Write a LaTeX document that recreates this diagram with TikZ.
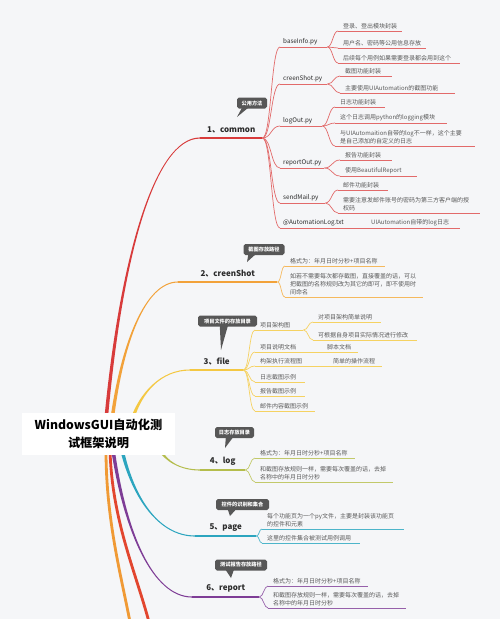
\documentclass[tikz,border=0pt]{standalone}
\usepackage{fontspec}
\setmainfont{Noto Sans CJK SC}
\usetikzlibrary{calc}

\definecolor{paper}{HTML}{F5F6F8}
\definecolor{leaftext}{HTML}{5A5A5A}
\definecolor{topictext}{HTML}{2B2B2B}
\definecolor{tagfill}{HTML}{575757}
\definecolor{commoncol}{HTML}{D83B3B}
\definecolor{commontw}{HTML}{E26A6A}
\definecolor{shotcol}{HTML}{F2A23A}
\definecolor{shottw}{HTML}{F5B95E}
\definecolor{filecol}{HTML}{F4C843}
\definecolor{filetw}{HTML}{F5D262}
\definecolor{logcol}{HTML}{B4BD4C}
\definecolor{logtw}{HTML}{C2C96A}
\definecolor{pagecol}{HTML}{2CA5BF}
\definecolor{pagetw}{HTML}{4DB5CA}
\definecolor{reportcol}{HTML}{7E3D96}
\definecolor{reporttw}{HTML}{9660AA}
\definecolor{redtail}{HTML}{E2462F}
\definecolor{orangetail}{HTML}{F09A35}

% thick tapering branch from the title box to a branch name
\newcommand{\limb}[3]{%
  \fill[#1] let \p1=(#2), \p2=(#3), \n1={0.55*sign(\y2-\y1)} in
    (\x1-1.8pt,\y1)
    .. controls ({\x1+0.15*(\x2-\x1)-1.2pt},{\y1+0.55*(\y2-\y1)})
       and ({\x2-0.5*(\x2-\x1)},{\y2+(\n1)})
    .. (\x2,{\y2+(\n1)})
    -- (\x2,{\y2-(\n1)})
    .. controls ({\x2-0.5*(\x2-\x1)},{\y2-(\n1)})
       and ({\x1+0.15*(\x2-\x1)+1.2pt},{\y1+0.55*(\y2-\y1)})
    .. (\x1+1.8pt,\y1) -- cycle;
}

\begin{document}
\begin{tikzpicture}[
    x=1pt, y=-1pt,
    % Style for a text that sits on its own line
    leaf/.style={anchor=south west, text width=#1pt, align=left,
        inner xsep=5pt, inner ysep=1.6pt, text=leaftext,
        font=\fontsize{6}{8}\selectfont},
    % Style for the file names under 1、common
    pyfile/.style={leaf=#1, inner xsep=3pt, text=topictext,
        font=\fontsize{6.3}{8}\selectfont},
    % Style for the numbered branch names
    topic/.style={anchor=south west, minimum width=#1pt, inner xsep=0pt,
        inner ysep=4.5pt, text=topictext,
        font=\bfseries\fontsize{8}{9}\selectfont},
    % Style for the dark speech bubbles
    tag/.style={fill=tagfill, rounded corners=1.8pt, text=white,
        font=\bfseries\fontsize{5.2}{6}\selectfont,
        inner sep=0pt, minimum height=11pt},
    % Curved link from a split point to a child line
    twig/.style={to path={.. controls ($(\tikztostart)+(#1,0)$)
        and ($(\tikztotarget)-(#1,0)$) .. (\tikztotarget)}},
    twig/.default=7
]

    % --- 1. Background ---
    \fill[paper] (0,0) rectangle (500,619);
    \useasboundingbox (0,0) rectangle (500,619);

    % --- 2. Branch names ---
    \node[topic=62] (common) at (200,138) {1、common};
    \node[topic=99] (shot)   at (178,282) {2、creenShot};
    \node[topic=53] (file)   at (190,370) {3、file};
    \node[topic=45] (log)    at (200,470) {4、log};
    \node[topic=61] (page)   at (195,536) {5、page};
    \node[topic=67] (report) at (192,597) {6、report};

    % --- 3. Texts of 1、common ---
    \node[pyfile=41] (baseinfo) at (280,47)  {baseInfo.py};
    \node[pyfile=41] (shotpy)   at (280,84)  {creenShot.py};
    \node[pyfile=36] (logpy)    at (280,126) {logOut.py};
    \node[pyfile=38] (reportpy) at (280,168) {reportOut.py};
    \node[pyfile=39] (mailpy)   at (280,203) {sendMail.py};
    \node[pyfile=80] (autolog)  at (280,228) {@AutomationLog.txt};
    \node[leaf=84] (autologsub) at (366,228) {UIAutomation自带的log日志};

    \node[leaf=54]  (login)    at (338,31)  {登录、登出模块封装};
    \node[leaf=78]  (userinfo) at (338,48)  {用户名、密码等公用信息存放};
    \node[leaf=112] (reuse)    at (338,63)  {后续每个用例如果需要登录都会用到这个};

    \node[leaf=42]  (shotwrap) at (340,76)  {截图功能封装};
    \node[leaf=105] (shotuia)  at (340,93)  {主要使用UIAutomation的截图功能};

    \node[leaf=40]  (logwrap)  at (335,107) {日志功能封装};
    \node[leaf=102] (logging)  at (335,123) {这个日志调用python的logging模块};
    \node[leaf=130] (logdiff)  at (335,146) {与UIAutomaition自带的log不一样，这个主要\\是自己添加的自定义的日志};

    \node[leaf=42]  (repwrap)   at (340,160) {报告功能封装};
    \node[leaf=67]  (repbeauty) at (340,176) {使用BeautifulReport};

    \node[leaf=40]  (mailwrap) at (338,190) {邮件功能封装};
    \node[leaf=132] (mailauth) at (338,213) {需要注意发邮件账号的密码为第三方客户端的授\\权码};

    % --- 4. Texts of 2、creenShot ---
    \node[leaf=90]  (shotfmt)  at (285,266) {格式为：年月日时分秒+项目名称};
    \node[leaf=128] (shotkeep) at (285,297) {如若不需要每次都存截图，直接覆盖的话，可以\\把截图的名称规则改为其它的即可，即不使用时\\间命名};

    % --- 5. Texts of 3、file ---
    \node[leaf=38] (arch)     at (255,330) {项目架构图};
    \node[leaf=58] (archnote) at (313,322) {对项目架构简单说明};
    \node[leaf=94] (archedit) at (313,340) {可根据自身项目实际情况进行修改};
    \node[leaf=52] (doc)      at (255,352) {项目说明文档};
    \node[leaf=26] (docsub)   at (322,352) {脚本文档};
    \node[leaf=58] (flow)     at (255,366) {构架执行流程图};
    \node[leaf=44] (flowsub)  at (328,366) {简单的操作流程};
    \node[leaf=40] (logpic)   at (255,382) {日志截图示例};
    \node[leaf=40] (reppic)   at (255,396) {报告截图示例};
    \node[leaf=50] (mailpic)  at (255,411) {邮件内容截图示例};

    % --- 6. Texts of 4、log, 5、page, 6、report ---
    \node[leaf=90]  (logfmt)   at (255,458) {格式为：年月日时分秒+项目名称};
    \node[leaf=128] (logrule)  at (255,482) {和截图存放规则一样，需要每次覆盖的话，去掉\\名称中的年月日时分秒};
    \node[leaf=132] (pagefile) at (262,529) {每个功能页为一个py文件，主要是封装该功能页\\的控件和元素};
    \node[leaf=88]  (pagecall) at (262,543) {这里的控件集合被测试用例调用};
    \node[leaf=90]  (repfmt)   at (268,586) {格式为：年月日时分秒+项目名称};
    \node[leaf=128] (reprule)  at (268,608) {和截图存放规则一样，需要每次覆盖的话，去掉\\名称中的年月日时分秒};

    % --- 7. Thick branches out of the title ---
    \coordinate (s1) at (106,420);
    \coordinate (s2) at (112,420);
    \coordinate (s3) at (132,420);
    \coordinate (s4) at (160,450);
    \coordinate (s5) at (122,450);
    \coordinate (s6) at (113,450);
    \coordinate (s7) at (110,450);
    \coordinate (s8) at (106,450);
    \coordinate (e7) at (149,622);
    \coordinate (e8) at (130,622);

    \draw[orangetail, line width=2.8pt] (s8) .. controls (106,520) and (121,575) .. (e8);
    \draw[redtail, line width=2.8pt] (s7) .. controls (112,520) and (135,570) .. (e7);

    \limb{commoncol}{s1}{common.south west}
    \limb{shotcol}{s2}{shot.south west}
    \limb{filecol}{s3}{file.south west}
    \limb{logcol}{s4}{log.south west}
    \limb{pagecol}{s5}{page.south west}
    \limb{reportcol}{s6}{report.south west}

    \draw[commoncol, line width=1.1pt] (common.south west) -- (common.south east);
    \draw[shotcol, line width=1.1pt] (shot.south west) -- (shot.south east);
    \draw[filecol, line width=1.1pt] (file.south west) -- (file.south east);
    \draw[logcol, line width=1.1pt] (log.south west) -- (log.south east);
    \draw[pagecol, line width=1.1pt] (page.south west) -- (page.south east);
    \draw[reportcol, line width=1.1pt] (report.south west) -- (report.south east);

    % --- 8. Thin links and lines ---
    \tikzstyle{thin}=[line width=0.7pt]

    \foreach \k in {baseinfo,shotpy,logpy,reportpy,mailpy,autolog}
        \draw[commontw, thin] (common.south east) to[twig=9] (\k.south west);
    \foreach \k in {login,userinfo,reuse}
        \draw[commontw, thin] (baseinfo.south east) to[twig=5] (\k.south west);
    \foreach \k in {shotwrap,shotuia}
        \draw[commontw, thin] (shotpy.south east) to[twig=6] (\k.south west);
    \foreach \k in {logwrap,logging,logdiff}
        \draw[commontw, thin] (logpy.south east) to[twig=6] (\k.south west);
    \foreach \k in {repwrap,repbeauty}
        \draw[commontw, thin] (reportpy.south east) to[twig=8] (\k.south west);
    \foreach \k in {mailwrap,mailauth}
        \draw[commontw, thin] (mailpy.south east) to[twig=6] (\k.south west);
    \draw[commontw, thin] (autolog.south east) -- (autologsub.south west);
    \foreach \k in {baseinfo,shotpy,logpy,reportpy,mailpy,autolog,autologsub,
                    login,userinfo,reuse,shotwrap,shotuia,logwrap,logging,logdiff,
                    repwrap,repbeauty,mailwrap,mailauth}
        \draw[commontw, thin] (\k.south west) -- (\k.south east);

    \foreach \k in {shotfmt,shotkeep}
        \draw[shottw, thin] (shot.south east) to[twig=4] (\k.south west);
    \foreach \k in {shotfmt,shotkeep}
        \draw[shottw, thin] (\k.south west) -- (\k.south east);

    \foreach \k in {arch,doc,flow,logpic,reppic,mailpic}
        \draw[filetw, thin] (file.south east) to[twig=6] (\k.south west);
    \foreach \k in {archnote,archedit}
        \draw[filetw, thin] (arch.south east) to[twig=5] (\k.south west);
    \draw[filetw, thin] (doc.south east) -- (docsub.south west);
    \draw[filetw, thin] (flow.south east) -- (flowsub.south west);
    \foreach \k in {arch,archnote,archedit,doc,docsub,flow,flowsub,logpic,reppic,mailpic}
        \draw[filetw, thin] (\k.south west) -- (\k.south east);

    \foreach \k in {logfmt,logrule}
        \draw[logtw, thin] (log.south east) to[twig=5] (\k.south west);
    \foreach \k in {logfmt,logrule}
        \draw[logtw, thin] (\k.south west) -- (\k.south east);

    \foreach \k in {pagefile,pagecall}
        \draw[pagetw, thin] (page.south east) to[twig=3] (\k.south west);
    \foreach \k in {pagefile,pagecall}
        \draw[pagetw, thin] (\k.south west) -- (\k.south east);

    \foreach \k in {repfmt,reprule}
        \draw[reporttw, thin] (report.south east) to[twig=4] (\k.south west);
    \foreach \k in {repfmt,reprule}
        \draw[reporttw, thin] (\k.south west) -- (\k.south east);

    % --- 9. Title box (on top of the branch roots) ---
    \node[fill=white, minimum width=153pt, minimum height=42pt, align=center,
          text=black, font=\bfseries\fontsize{12.2}{18}\selectfont]
        (root) at (98.5,434) {WindowsGUI自动化测\\试框架说明};

    % --- 10. Speech bubbles ---
    \node[tag, minimum width=30pt] (tagcommon) at (252,103)   {公用方法};
    \node[tag, minimum width=41pt] (tagshot)   at (264,249.5) {截图存放路径};
    \node[tag, minimum width=59pt] (tagfile)   at (227.5,321) {项目文件的存放目录};
    \node[tag, minimum width=39pt] (taglog)    at (234.5,432.5) {日志存放目录};
    \node[tag, minimum width=53pt] (tagpage)   at (242.5,504.5) {控件的识别和集合};
    \node[tag, minimum width=52pt] (tagreport) at (241,565)   {测试报告存放路径};

    \coordinate (tagcommontip) at (237,117);
    \coordinate (tagshottip)   at (247,262);
    \coordinate (tagfiletip)   at (221,350);
    \coordinate (taglogtip)    at (225,448);
    \coordinate (tagpagetip)   at (230,516);
    \coordinate (tagreporttip) at (231,578);

    \fill[tagfill] ([shift={(5pt,0.6pt)}]tagcommon.south west) -- ([shift={(11pt,0.6pt)}]tagcommon.south west) -- (tagcommontip) -- cycle;
    \fill[tagfill] ([shift={(5pt,0.6pt)}]tagshot.south west) -- ([shift={(12pt,0.6pt)}]tagshot.south west) -- (tagshottip) -- cycle;
    \fill[tagfill] ([shift={(22pt,0.6pt)}]tagfile.south west) -- ([shift={(30pt,0.6pt)}]tagfile.south west) -- (tagfiletip) -- cycle;
    \fill[tagfill] ([shift={(11pt,0.6pt)}]taglog.south west) -- ([shift={(18pt,0.6pt)}]taglog.south west) -- (taglogtip) -- cycle;
    \fill[tagfill] ([shift={(12pt,0.6pt)}]tagpage.south west) -- ([shift={(20pt,0.6pt)}]tagpage.south west) -- (tagpagetip) -- cycle;
    \fill[tagfill] ([shift={(11pt,0.6pt)}]tagreport.south west) -- ([shift={(19pt,0.6pt)}]tagreport.south west) -- (tagreporttip) -- cycle;

\end{tikzpicture}
\end{document}
